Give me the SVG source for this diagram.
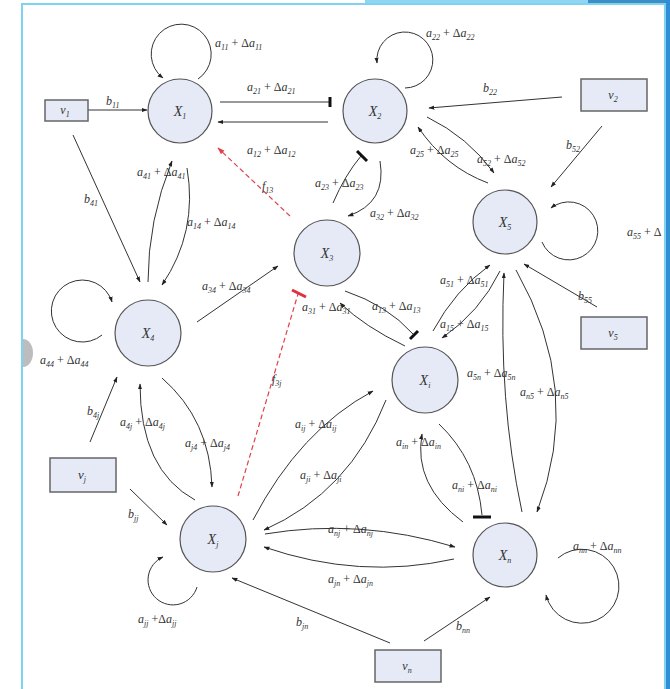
<svg xmlns="http://www.w3.org/2000/svg" width="670" height="689" viewBox="0 0 670 689">
<defs>
<style>
.frame{fill:#fff;stroke:#7fd3f1;stroke-width:2}
.node circle{fill:#e5eaf6;stroke:#555;stroke-width:1.2}
.node rect{fill:#e5eaf6;stroke:#666;stroke-width:1.5}
.nl{font-family:"Liberation Serif",serif;font-style:italic;font-size:14px;fill:#333;text-anchor:middle}
.m{font-family:"Liberation Serif",serif;font-style:italic;font-size:12px;fill:#333}
.s{font-size:8px}
.n{font-style:normal}
.c path,.c line{fill:none;stroke:#333;stroke-width:1}
.c .red{stroke:#e0404e;stroke-dasharray:5 3;stroke-width:1.2}
.c .bar{stroke:#111;stroke-width:3;stroke-dasharray:none}
.c .rbar{stroke:#e0303e;stroke-width:3;stroke-dasharray:none}
</style>
<marker id="ah" viewBox="0 0 10 10" refX="9" refY="5" markerWidth="6" markerHeight="6" orient="auto"><path d="M0,1.5 L10,5 L0,8.5 z" fill="#222"/></marker>
<marker id="ahr" viewBox="0 0 10 10" refX="9" refY="5" markerWidth="6" markerHeight="6" orient="auto"><path d="M0,1.5 L10,5 L0,8.5 z" fill="#e0404e"/></marker>
</defs>

<g id="frame">
<rect x="0" y="0" width="670" height="689" fill="#fff"/>
<rect x="365" y="0" width="223" height="4" fill="#8fd6f2"/>
<rect x="588" y="0" width="82" height="4" fill="#3b8ec6"/>
<rect x="665" y="0" width="5" height="689" fill="#2f8fd2"/>
<rect class="frame" x="22" y="4" width="643" height="690"/>
<path d="M23,339 A10,14 0 0 1 23,367 Z" fill="#bdbdbd"/>
</g>

<g id="connectors" class="c">
<path d="M198,79 A30,30 0 1 0 163,78" marker-end="url(#ah)"/>
<line x1="88" y1="110" x2="147" y2="110" marker-end="url(#ah)"/>
<line x1="220" y1="102" x2="330" y2="102"/>
<line class="bar" x1="330" y1="97" x2="330" y2="107"/>
<line x1="328" y1="122" x2="218" y2="122" marker-end="url(#ah)"/>
<path d="M405,88 A28,28 0 1 0 377,63" marker-end="url(#ah)"/>
<line x1="562" y1="97" x2="429" y2="108" marker-end="url(#ah)"/>
<path d="M427,117 Q468,137 494,173" marker-end="url(#ah)"/>
<path d="M488,183 Q445,167 418,127" marker-end="url(#ah)"/>
<line x1="602" y1="126" x2="551" y2="187" marker-end="url(#ah)"/>
<path d="M542,242 A29,29 0 1 0 551,208" marker-end="url(#ah)"/>
<line x1="73" y1="135" x2="140" y2="282" marker-end="url(#ah)"/>
<path d="M148,282 Q148,220 172,161" marker-end="url(#ah)"/>
<path d="M187,168 Q198,232 162,285" marker-end="url(#ah)"/>
<path d="M102,335 A31,31 0 1 1 112,302" marker-end="url(#ah)"/>
<line x1="197" y1="322" x2="278" y2="266" marker-end="url(#ah)"/>
<line class="red" x1="290" y1="216" x2="218" y2="148" marker-end="url(#ahr)"/>
<path d="M333,203 Q345,175 361,156"/>
<line class="bar" x1="357" y1="151" x2="367" y2="161"/>
<path d="M380,161 Q387,203 348,216" marker-end="url(#ah)"/>
<path d="M345,291 Q387,305 413,334"/>
<line class="bar" x1="410" y1="339" x2="418" y2="331"/>
<path d="M405,346 Q365,327 340,303" marker-end="url(#ah)"/>
<path d="M433,331 Q455,290 490,265" marker-end="url(#ah)"/>
<path d="M500,271 Q480,312 442,338" marker-end="url(#ah)"/>
<line x1="597" y1="307" x2="524" y2="264" marker-end="url(#ah)"/>
<path d="M522,512 Q498,400 504,273" marker-end="url(#ah)"/>
<path d="M516,270 Q584,390 537,512" marker-end="url(#ah)"/>
<path d="M463,522 Q413,485 422,434" marker-end="url(#ah)"/>
<path d="M439,424 Q477,460 482,515"/>
<line class="bar" x1="473" y1="517" x2="491" y2="517"/>
<path d="M253,520 Q300,430 373,391" marker-end="url(#ah)"/>
<path d="M386,400 Q350,492 264,530" marker-end="url(#ah)"/>
<path d="M265,534 Q360,518 455,547" marker-end="url(#ah)"/>
<path d="M454,559 Q360,580 264,547" marker-end="url(#ah)"/>
<path d="M558,558 A37,37 0 1 1 546,595" marker-end="url(#ah)"/>
<line x1="424" y1="641" x2="490" y2="597" marker-end="url(#ah)"/>
<line x1="390" y1="643" x2="232" y2="578" marker-end="url(#ah)"/>
<line x1="130" y1="489" x2="167" y2="525" marker-end="url(#ah)"/>
<path d="M197,587 A25,25 0 1 1 163,557" marker-end="url(#ah)"/>
<line x1="90" y1="442" x2="117" y2="377" marker-end="url(#ah)"/>
<path d="M195,500 Q140,470 140,384" marker-end="url(#ah)"/>
<path d="M162,378 Q210,420 212,487" marker-end="url(#ah)"/>
<line class="red" x1="238" y1="496" x2="298" y2="294"/>
<line class="rbar" x1="292" y1="290" x2="306" y2="297"/>
</g>

<g id="X1" class="node"><circle cx="180" cy="111" r="32"/><text class="nl" x="180" y="116">X<tspan class="s" dy="3">1</tspan></text></g>
<g id="X2" class="node"><circle cx="375" cy="111" r="32"/><text class="nl" x="375" y="116">X<tspan class="s" dy="3">2</tspan></text></g>
<g id="X3" class="node"><circle cx="327" cy="253" r="33"/><text class="nl" x="327" y="258">X<tspan class="s" dy="3">3</tspan></text></g>
<g id="X4" class="node"><circle cx="148" cy="333" r="33"/><text class="nl" x="148" y="338">X<tspan class="s" dy="3">4</tspan></text></g>
<g id="X5" class="node"><circle cx="505" cy="222" r="32"/><text class="nl" x="505" y="227">X<tspan class="s" dy="3">5</tspan></text></g>
<g id="Xi" class="node"><circle cx="425" cy="380" r="33"/><text class="nl" x="425" y="385">X<tspan class="s" dy="3">i</tspan></text></g>
<g id="Xj" class="node"><circle cx="213" cy="539" r="33"/><text class="nl" x="213" y="544">X<tspan class="s" dy="3">j</tspan></text></g>
<g id="Xn" class="node"><circle cx="505" cy="555" r="32"/><text class="nl" x="505" y="560">X<tspan class="s" dy="3">n</tspan></text></g>
<g id="v1" class="node"><rect x="45" y="100" width="43" height="21"/><text class="nl" x="65" y="114" style="font-size:12px">v<tspan class="s" dy="3">1</tspan></text></g>
<g id="v2" class="node"><rect x="581" y="79" width="66" height="32"/><text class="nl" x="613" y="99" style="font-size:12px">v<tspan class="s" dy="3">2</tspan></text></g>
<g id="v5" class="node"><rect x="581" y="317" width="66" height="32"/><text class="nl" x="613" y="337" style="font-size:12px">v<tspan class="s" dy="3">5</tspan></text></g>
<g id="vj" class="node"><rect x="50" y="458" width="66" height="34"/><text class="nl" x="82" y="479" style="font-size:13px">v<tspan class="s" dy="3">j</tspan></text></g>
<g id="vn" class="node"><rect x="375" y="650" width="66" height="32"/><text class="nl" x="407" y="670" style="font-size:12px">v<tspan class="s" dy="3">n</tspan></text></g>

<g id="labels">
<text class="m" x="215" y="47">a<tspan class="s" dy="3">11</tspan><tspan class="n" dy="-3"> + Δ</tspan>a<tspan class="s" dy="3">11</tspan></text>
<text class="m" x="106" y="105">b<tspan class="s" dy="3">11</tspan></text>
<text class="m" x="247" y="91">a<tspan class="s" dy="3">21</tspan><tspan class="n" dy="-3"> + Δ</tspan>a<tspan class="s" dy="3">21</tspan></text>
<text class="m" x="247" y="154">a<tspan class="s" dy="3">12</tspan><tspan class="n" dy="-3"> + Δ</tspan>a<tspan class="s" dy="3">12</tspan></text>
<text class="m" x="426" y="37">a<tspan class="s" dy="3">22</tspan><tspan class="n" dy="-3"> + Δ</tspan>a<tspan class="s" dy="3">22</tspan></text>
<text class="m" x="483" y="92">b<tspan class="s" dy="3">22</tspan></text>
<text class="m" x="410" y="154">a<tspan class="s" dy="3">25</tspan><tspan class="n" dy="-3"> + Δ</tspan>a<tspan class="s" dy="3">25</tspan></text>
<text class="m" x="477" y="163">a<tspan class="s" dy="3">52</tspan><tspan class="n" dy="-3"> + Δ</tspan>a<tspan class="s" dy="3">52</tspan></text>
<text class="m" x="566" y="149">b<tspan class="s" dy="3">52</tspan></text>
<text class="m" x="627" y="236">a<tspan class="s" dy="3">55</tspan><tspan class="n" dy="-3"> + Δ</tspan></text>
<text class="m" x="262" y="190">f<tspan class="s" dy="3">13</tspan></text>
<text class="m" x="84" y="203">b<tspan class="s" dy="3">41</tspan></text>
<text class="m" x="137" y="176">a<tspan class="s" dy="3">41</tspan><tspan class="n" dy="-3"> + Δ</tspan>a<tspan class="s" dy="3">41</tspan></text>
<text class="m" x="187" y="226">a<tspan class="s" dy="3">14</tspan><tspan class="n" dy="-3"> + Δ</tspan>a<tspan class="s" dy="3">14</tspan></text>
<text class="m" x="315" y="187">a<tspan class="s" dy="3">23</tspan><tspan class="n" dy="-3"> + Δ</tspan>a<tspan class="s" dy="3">23</tspan></text>
<text class="m" x="370" y="217">a<tspan class="s" dy="3">32</tspan><tspan class="n" dy="-3"> + Δ</tspan>a<tspan class="s" dy="3">32</tspan></text>
<text class="m" x="202" y="290">a<tspan class="s" dy="3">34</tspan><tspan class="n" dy="-3"> + Δ</tspan>a<tspan class="s" dy="3">34</tspan></text>
<text class="m" x="40" y="364">a<tspan class="s" dy="3">44</tspan><tspan class="n" dy="-3"> + Δ</tspan>a<tspan class="s" dy="3">44</tspan></text>
<text class="m" x="302" y="311">a<tspan class="s" dy="3">31</tspan><tspan class="n" dy="-3"> + Δ</tspan>a<tspan class="s" dy="3">31</tspan></text>
<text class="m" x="372" y="310">a<tspan class="s" dy="3">13</tspan><tspan class="n" dy="-3"> + Δ</tspan>a<tspan class="s" dy="3">13</tspan></text>
<text class="m" x="440" y="284">a<tspan class="s" dy="3">51</tspan><tspan class="n" dy="-3"> + Δ</tspan>a<tspan class="s" dy="3">51</tspan></text>
<text class="m" x="440" y="328">a<tspan class="s" dy="3">15</tspan><tspan class="n" dy="-3"> + Δ</tspan>a<tspan class="s" dy="3">15</tspan></text>
<text class="m" x="578" y="300">b<tspan class="s" dy="3">55</tspan></text>
<text class="m" x="467" y="377">a<tspan class="s" dy="3">5n</tspan><tspan class="n" dy="-3"> + Δ</tspan>a<tspan class="s" dy="3">5n</tspan></text>
<text class="m" x="520" y="396">a<tspan class="s" dy="3">n5</tspan><tspan class="n" dy="-3"> + Δ</tspan>a<tspan class="s" dy="3">n5</tspan></text>
<text class="m" x="272" y="383">f<tspan class="s" dy="3">3j</tspan></text>
<text class="m" x="87" y="415">b<tspan class="s" dy="3">4j</tspan></text>
<text class="m" x="120" y="426">a<tspan class="s" dy="3">4j</tspan><tspan class="n" dy="-3"> + Δ</tspan>a<tspan class="s" dy="3">4j</tspan></text>
<text class="m" x="185" y="447">a<tspan class="s" dy="3">j4</tspan><tspan class="n" dy="-3"> + Δ</tspan>a<tspan class="s" dy="3">j4</tspan></text>
<text class="m" x="295" y="428">a<tspan class="s" dy="3">ij</tspan><tspan class="n" dy="-3"> + Δ</tspan>a<tspan class="s" dy="3">ij</tspan></text>
<text class="m" x="300" y="479">a<tspan class="s" dy="3">ji</tspan><tspan class="n" dy="-3"> + Δ</tspan>a<tspan class="s" dy="3">ji</tspan></text>
<text class="m" x="396" y="446">a<tspan class="s" dy="3">in</tspan><tspan class="n" dy="-3"> + Δ</tspan>a<tspan class="s" dy="3">in</tspan></text>
<text class="m" x="452" y="489">a<tspan class="s" dy="3">ni</tspan><tspan class="n" dy="-3"> + Δ</tspan>a<tspan class="s" dy="3">ni</tspan></text>
<text class="m" x="328" y="533">a<tspan class="s" dy="3">nj</tspan><tspan class="n" dy="-3"> + Δ</tspan>a<tspan class="s" dy="3">nj</tspan></text>
<text class="m" x="328" y="583">a<tspan class="s" dy="3">jn</tspan><tspan class="n" dy="-3"> + Δ</tspan>a<tspan class="s" dy="3">jn</tspan></text>
<text class="m" x="573" y="550">a<tspan class="s" dy="3">nn</tspan><tspan class="n" dy="-3"> + Δ</tspan>a<tspan class="s" dy="3">nn</tspan></text>
<text class="m" x="128" y="518">b<tspan class="s" dy="3">jj</tspan></text>
<text class="m" x="138" y="623">a<tspan class="s" dy="3">jj</tspan><tspan class="n" dy="-3"> +Δ</tspan>a<tspan class="s" dy="3">jj</tspan></text>
<text class="m" x="296" y="626">b<tspan class="s" dy="3">jn</tspan></text>
<text class="m" x="456" y="630">b<tspan class="s" dy="3">nn</tspan></text>
</g>
</svg>
